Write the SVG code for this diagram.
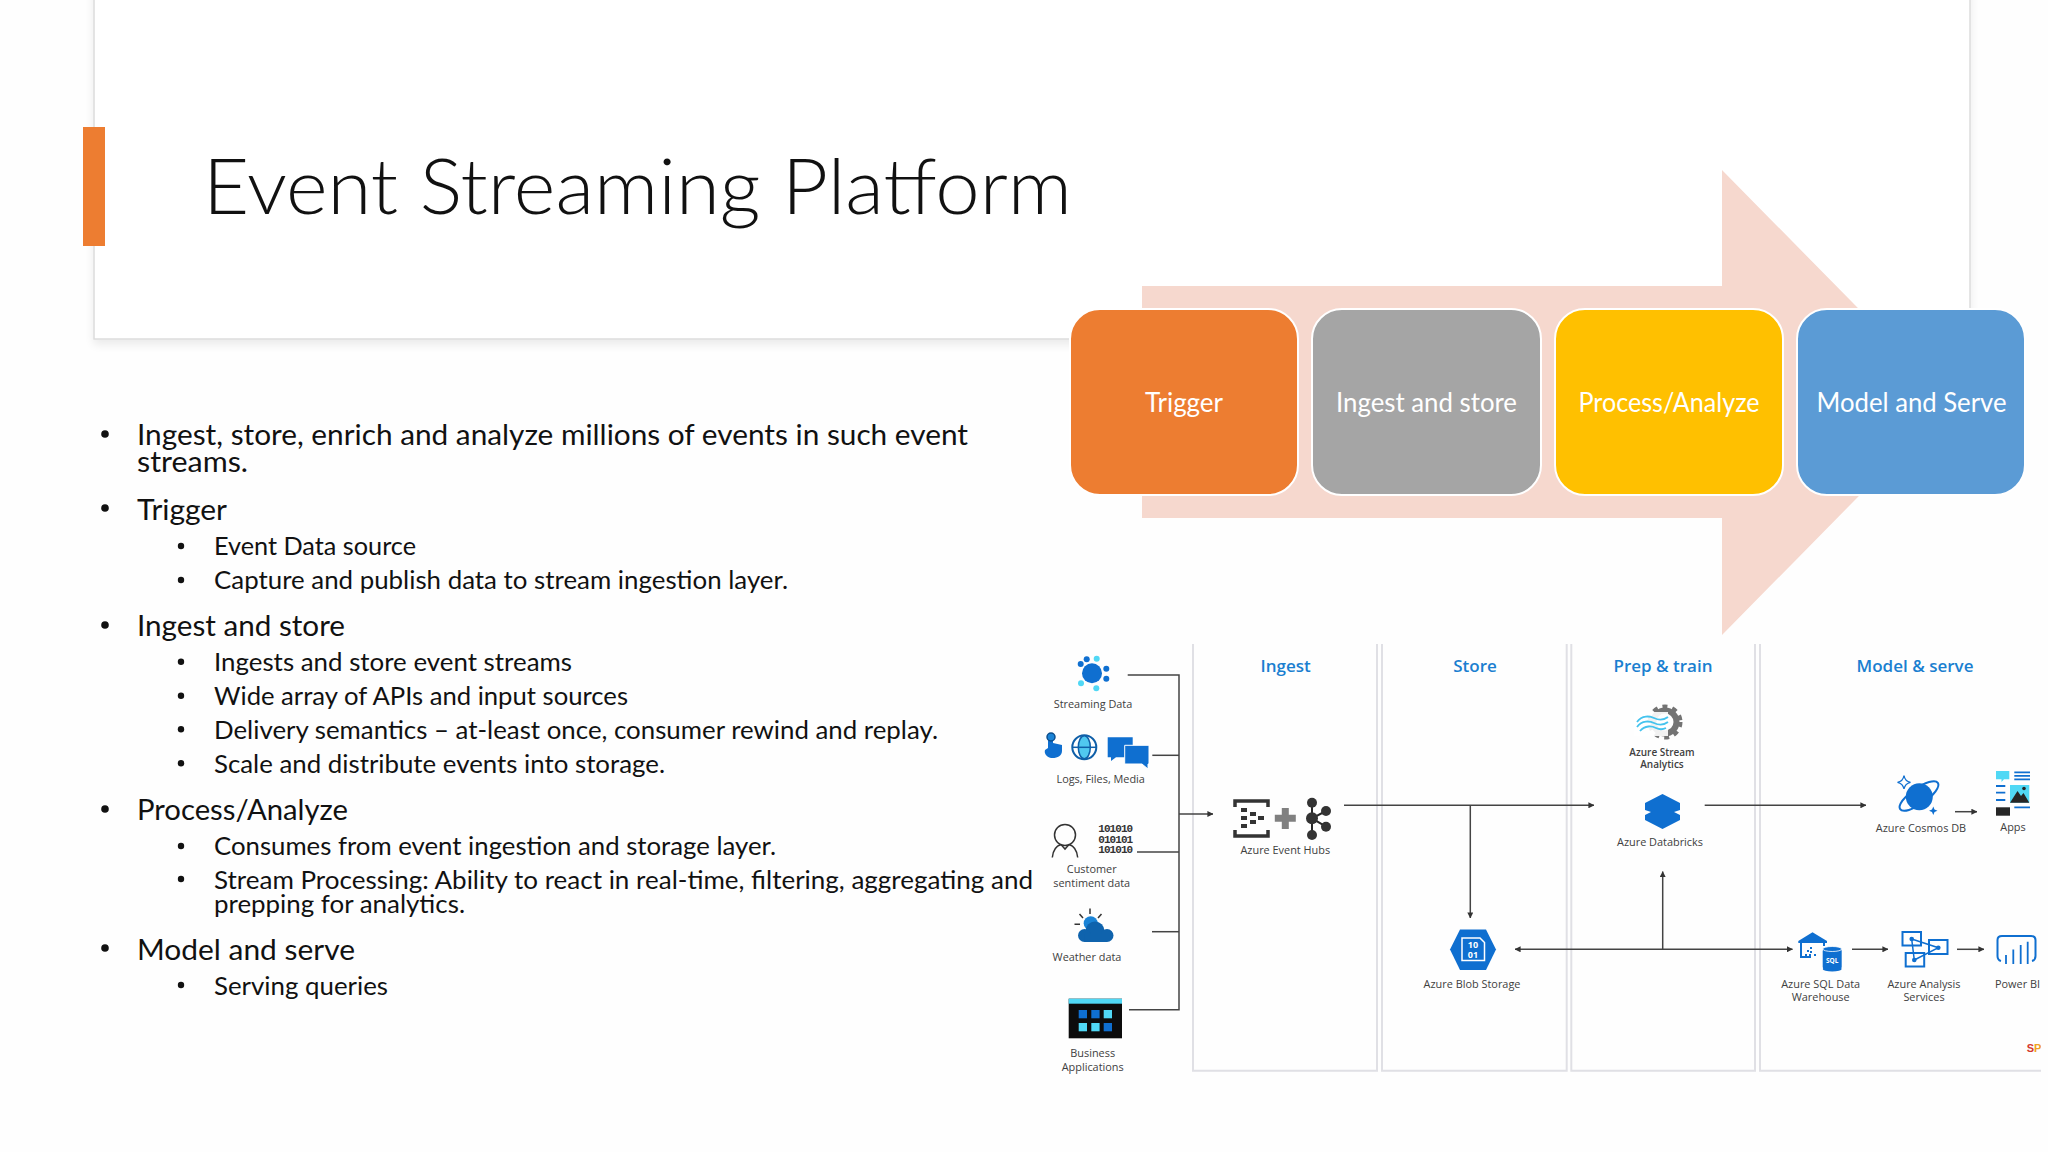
<svg xmlns="http://www.w3.org/2000/svg" width="2048" height="1152" viewBox="0 0 2048 1152">
<style>
.title{font-family:"Lato","Liberation Sans",sans-serif;font-weight:300;font-size:77px;fill:#111}
.b1{font-family:"Lato","Liberation Sans",sans-serif;font-size:28px;fill:#111}
.b2{font-family:"Lato","Liberation Sans",sans-serif;font-size:25px;fill:#111}
.box{stroke:#fff;stroke-width:2}
.boxt{font-family:"Lato","Liberation Sans",sans-serif;font-size:27px;fill:#fff;text-anchor:middle}
.panel{fill:none;stroke:#e0e0e5;stroke-width:2}
.hdr{font-family:"Open Sans","Liberation Sans",sans-serif;font-size:17px;font-weight:600;fill:#1a7fd0;text-anchor:middle}
.lbl{font-family:"Open Sans","Liberation Sans",sans-serif;font-size:10.9px;fill:#404040;text-anchor:middle}
.lblb{font-family:"Open Sans","Liberation Sans",sans-serif;font-size:10px;font-weight:600;fill:#404040;text-anchor:middle}
.wh{font-family:"Open Sans","Liberation Sans",sans-serif;font-weight:700;fill:#fff;text-anchor:middle}
.bin{font-family:"Liberation Mono",monospace;font-weight:700;font-size:11px;fill:#333;text-anchor:middle}
.bl{fill:#0f6fd0}.cy{fill:#50d8f5}.dk{fill:#262626}
.ln{fill:none;stroke:#0f6fd0;stroke-width:2}
.con{fill:none;stroke:#444;stroke-width:1.5}
.arr{marker-end:url(#ah)}
</style>
<defs>
<marker id="ah" viewBox="0 0 8 8" refX="7.5" refY="4" markerWidth="6" markerHeight="6" orient="auto-start-reverse" markerUnits="userSpaceOnUse"><path d="M0 0L8 4L0 8Z" fill="#333"/></marker>
<filter id="sh" x="-5%" y="-5%" width="110%" height="115%"><feGaussianBlur in="SourceAlpha" stdDeviation="5"/><feOffset dy="5"/><feComponentTransfer><feFuncA type="linear" slope="0.08"/></feComponentTransfer><feMerge><feMergeNode/><feMergeNode in="SourceGraphic"/></feMerge></filter>
<clipPath id="cp"><rect x="0" y="0" width="2041" height="1152"/></clipPath>
</defs>
<rect width="2048" height="1152" fill="#fefefe"/>

<g id="title-panel">
<rect x="94" y="-20" width="1876" height="359" fill="#fff" stroke="#dcdcdc" stroke-width="1.5" filter="url(#sh)"/>
<rect x="83" y="127" width="22" height="119" fill="#ed7d31"/>
<text class="title" x="203" y="214" textLength="869" lengthAdjust="spacingAndGlyphs">Event Streaming Platform</text>
</g>

<g id="bullets">
<g fill="#111">
<circle cx="105" cy="434" r="3.8"/><circle cx="105" cy="508" r="3.8"/><circle cx="105" cy="625" r="3.8"/><circle cx="105" cy="809" r="3.8"/><circle cx="105" cy="948" r="3.8"/>
<circle cx="181" cy="546" r="3.2"/><circle cx="181" cy="580" r="3.2"/><circle cx="181" cy="661.7" r="3.2"/><circle cx="181" cy="695.7" r="3.2"/><circle cx="181" cy="729.3" r="3.2"/><circle cx="181" cy="763.3" r="3.2"/><circle cx="181" cy="846" r="3.2"/><circle cx="181" cy="879" r="3.2"/><circle cx="181" cy="985" r="3.2"/>
</g>
<text class="b1" x="137" y="445" textLength="831" lengthAdjust="spacingAndGlyphs">Ingest, store, enrich and analyze millions of events in such event</text>
<text class="b1" x="137" y="472" textLength="111" lengthAdjust="spacingAndGlyphs">streams.</text>
<text class="b1" x="137" y="520" textLength="90" lengthAdjust="spacingAndGlyphs">Trigger</text>
<text class="b2" x="214" y="555" textLength="202" lengthAdjust="spacingAndGlyphs">Event Data source</text>
<text class="b2" x="214" y="589" textLength="574" lengthAdjust="spacingAndGlyphs">Capture and publish data to stream ingestion layer.</text>
<text class="b1" x="137" y="636" textLength="208" lengthAdjust="spacingAndGlyphs">Ingest and store</text>
<text class="b2" x="214" y="671" textLength="358" lengthAdjust="spacingAndGlyphs">Ingests and store event streams</text>
<text class="b2" x="214" y="705" textLength="414" lengthAdjust="spacingAndGlyphs">Wide array of APIs and input sources</text>
<text class="b2" x="214" y="739.300" textLength="724" lengthAdjust="spacingAndGlyphs">Delivery semantics – at-least once, consumer rewind and replay.</text>
<text class="b2" x="214" y="773.300" textLength="451" lengthAdjust="spacingAndGlyphs">Scale and distribute events into storage.</text>
<text class="b1" x="137" y="820" textLength="211" lengthAdjust="spacingAndGlyphs">Process/Analyze</text>
<text class="b2" x="214" y="855" textLength="562" lengthAdjust="spacingAndGlyphs">Consumes from event ingestion and storage layer.</text>
<text class="b2" x="214" y="889" textLength="819" lengthAdjust="spacingAndGlyphs">Stream Processing: Ability to react in real-time, filtering, aggregating and</text>
<text class="b2" x="214" y="912.700" textLength="251" lengthAdjust="spacingAndGlyphs">prepping for analytics.</text>
<text class="b1" x="137" y="960" textLength="218" lengthAdjust="spacingAndGlyphs">Model and serve</text>
<text class="b2" x="214" y="995" textLength="174" lengthAdjust="spacingAndGlyphs">Serving queries</text>
</g>

<path id="flow-arrow" d="M1142 286H1722V170L1951 402.500L1722 635V518H1142Z" fill="#f6d8ce"/>
<g id="node-trigger"><rect class="box" x="1070" y="309" width="228" height="186" rx="30" fill="#ed7d31"/><text class="boxt" x="1184" y="412" textLength="78" lengthAdjust="spacingAndGlyphs">Trigger</text></g>
<g id="node-ingest-store"><rect class="box" x="1312" y="309" width="229" height="186" rx="30" fill="#a5a5a5"/><text class="boxt" x="1426.500" y="412" textLength="181" lengthAdjust="spacingAndGlyphs">Ingest and store</text></g>
<g id="node-process"><rect class="box" x="1555" y="309" width="228" height="186" rx="30" fill="#ffc000"/><text class="boxt" x="1669" y="412" textLength="181" lengthAdjust="spacingAndGlyphs">Process/Analyze</text></g>
<g id="node-model"><rect class="box" x="1797" y="309" width="228" height="186" rx="30" fill="#5b9bd5"/><text class="boxt" x="1911.500" y="412" textLength="190" lengthAdjust="spacingAndGlyphs">Model and Serve</text></g>

<g id="panels">
<path class="panel" d="M1193 644V1070.700H1377V644"/>
<path class="panel" d="M1382 644V1070.700H1566.700V644"/>
<path class="panel" d="M1571.300 644V1070.700H1755V644"/>
<path class="panel" d="M1760 644V1070.700H2041"/>
<text class="hdr" x="1285.700" y="672">Ingest</text>
<text class="hdr" x="1475" y="672">Store</text>
<text class="hdr" x="1663" y="672">Prep &amp; train</text>
<text class="hdr" x="1915" y="672">Model &amp; serve</text>
</g>

<g id="connectors">
<path class="con" d="M1127.700 675H1179V1009.700H1129"/>
<path class="con" d="M1152.300 755.300H1179"/>
<path class="con" d="M1137 852H1179"/>
<path class="con" d="M1152 931.700H1179"/>
<path class="con arr" d="M1179 814H1213"/>
<path class="con arr" d="M1344 805.300H1594"/>
<path class="con arr" d="M1470.300 805.300V918"/>
<path class="con arr" d="M1704.700 805.300H1866"/>
<path class="con arr" d="M1955 811.700H1977"/>
<path class="con" style="marker-start:url(#ah);marker-end:url(#ah)" d="M1515 949.300H1792.500"/>
<path class="con arr" d="M1662.700 949.300V871.500"/>
<path class="con arr" d="M1852 949.300H1888"/>
<path class="con arr" d="M1957 949.300H1984"/>
</g>

<g id="node-streaming-data">
<circle class="bl" cx="1092" cy="673.300" r="10"/>
<g class="bl"><circle cx="1086.700" cy="659.300" r="3"/><circle cx="1106.300" cy="668.700" r="3"/><circle cx="1106.300" cy="678.700" r="3"/><circle cx="1080.700" cy="664" r="3"/></g>
<g class="cy"><circle cx="1096.700" cy="658.700" r="3"/><circle cx="1081" cy="683.300" r="3"/><circle cx="1096.300" cy="688.300" r="3"/></g>
<text class="lbl" x="1093" y="707.700">Streaming Data</text>
</g>
<g id="node-logs">
<path class="bl" d="M1048 738V748L1045 750C1044 753 1046 757 1051 758C1057 758.500 1062 756 1062 751V745L1053 743V738Z"/>
<circle cx="1051" cy="737" r="4" fill="#1a83d6" stroke="#0c4d8c" stroke-width="1.500"/>
<circle cx="1084.300" cy="747.300" r="12" fill="#fff" stroke="#0f5fa8" stroke-width="2"/>
<ellipse cx="1084.300" cy="747.300" rx="6" ry="11.500" fill="#50c8f0" stroke="#0f5fa8" stroke-width="1.500"/>
<path d="M1073 747.300H1096" stroke="#0f5fa8" stroke-width="1.500"/>
<path class="bl" d="M1107.700 737.300H1132.700V757.300H1116L1111 761V757.300H1107.700Z"/>
<path class="bl" stroke="#fff" d="M1124.700 745.300H1149V764H1148V769L1142 764H1124.700Z"/>
<text class="lbl" x="1100.700" y="783.300">Logs, Files, Media</text>
</g>
<g id="node-sentiment">
<circle cx="1065" cy="835" r="10.500" fill="none" stroke="#333" stroke-width="1.500"/>
<path d="M1052.300 857.500C1053 850 1056 846 1061 844.500L1065 849L1069 844.500C1074 846 1077 850 1077.700 857.500" fill="none" stroke="#333" stroke-width="1.500"/>
<text class="bin" x="1115.700" y="831.700" textLength="35">101010</text>
<text class="bin" x="1115.700" y="842.500" textLength="35">010101</text>
<text class="bin" x="1115.700" y="853.300" textLength="35">101010</text>
<text class="lbl" x="1091.700" y="873">Customer</text>
<text class="lbl" x="1091.700" y="886.700">sentiment data</text>
</g>
<g id="node-weather">
<circle cx="1090.700" cy="923.300" r="7" fill="#1a83d6"/>
<path d="M1090 908.500V914M1079.500 914L1083 918M1101.500 914L1098 918M1074.500 924.300H1080" stroke="#333" stroke-width="1.500"/>
<g fill="#0f63ad"><circle cx="1095" cy="931" r="9.500"/><circle cx="1084.500" cy="935.500" r="6.500"/><circle cx="1107" cy="935.500" r="6.500"/><rect x="1084.500" y="934" width="22.500" height="8"/></g>
<text class="lbl" x="1087" y="961.300">Weather data</text>
</g>
<g id="node-business">
<rect x="1068.700" y="998.700" width="53.300" height="39.600" fill="#0c0c0c"/>
<rect class="cy" x="1068.700" y="998.700" width="53.300" height="5"/>
<g class="bl"><rect x="1078.700" y="1010" width="8.300" height="8.300"/><rect x="1091.300" y="1010" width="8.300" height="8.300"/><rect x="1103.700" y="1023" width="8.300" height="8.300"/></g>
<g class="cy"><rect x="1103.700" y="1010" width="8.300" height="8.300"/><rect x="1078.700" y="1023" width="8.300" height="8.300"/><rect x="1091.300" y="1023" width="8.300" height="8.300"/></g>
<text class="lbl" x="1092.700" y="1057.300">Business</text>
<text class="lbl" x="1092.700" y="1070.700">Applications</text>
</g>
<g id="node-event-hubs">
<path d="M1235 807V801H1268V807M1235 830V836H1268V830" fill="none" stroke="#333" stroke-width="3.500"/>
<g fill="#333"><rect x="1241" y="808" width="6" height="4"/><rect x="1241" y="816" width="6" height="4"/><rect x="1241" y="824" width="6" height="4"/><rect x="1250" y="812" width="6" height="4"/><rect x="1250" y="820" width="6" height="4"/><rect x="1258" y="816" width="6" height="4"/></g>
<path d="M1285.300 808V829M1274.800 818.300H1295.800" stroke="#808080" stroke-width="7"/>
<path d="M1312 802.700V835M1312 818.300L1326 811M1312 818.300L1326 826.700" stroke="#262626" stroke-width="2"/>
<g fill="#333"><circle cx="1312" cy="818.300" r="6"/><circle cx="1312" cy="802.700" r="5"/><circle cx="1312" cy="835" r="5"/><circle cx="1326" cy="811" r="5"/><circle cx="1326" cy="826.700" r="5"/></g>
<text class="lbl" x="1285.300" y="854.300">Azure Event Hubs</text>
</g>
<g id="node-stream-analytics">
<circle cx="1665" cy="722" r="11.500" fill="none" stroke="#737373" stroke-width="6"/>
<circle cx="1665" cy="722" r="15.500" fill="none" stroke="#737373" stroke-width="4" stroke-dasharray="5 5"/>
<path d="M1634 712H1668V736H1634Z" fill="#fff" opacity="0.900"/>
<path d="M1637 722C1642 715 1650 716 1654 718C1660 721 1664 720 1668 717M1637 727C1642 720 1650 721 1654 723C1660 726 1664 725 1668 722M1640 731C1645 725 1652 726 1656 728C1660 730 1664 729 1666 728" fill="none" stroke="#45c3ee" stroke-width="1.800"/>
<text class="lblb" x="1662" y="755.700">Azure Stream</text>
<text class="lblb" x="1662" y="768">Analytics</text>
</g>
<g id="node-databricks">
<path class="bl" d="M1662.500 794L1680 803V810L1674 812L1680 815V820L1662.500 829L1645 820V815L1651 812L1645 810V803Z"/>
<text class="lbl" x="1660" y="845.700">Azure Databricks</text>
</g>
<g id="node-blob">
<path class="bl" d="M1450 949.500L1460 929.500H1486L1496 949.500L1486 970H1460Z"/>
<path d="M1462 938H1480L1484.500 942.500V960.500H1462Z" fill="none" stroke="#fff" stroke-width="1.500"/>
<text class="wh" x="1473" y="948.300" font-size="9">10</text>
<text class="wh" x="1473" y="957.600" font-size="9">01</text>
<text class="lbl" x="1472" y="987.700">Azure Blob Storage</text>
</g>
<g id="node-cosmos">
<ellipse class="ln" cx="1919" cy="796" rx="23" ry="8" transform="rotate(-35 1919 796)" stroke-width="1.500"/>
<circle class="bl" cx="1919.300" cy="796.700" r="13.500"/>
<path d="M1904 775.500Q1905 781.500 1910.500 782.300Q1905 783.500 1904 789Q1903 783.500 1897.500 782.300Q1903 781.500 1904 775.500Z" fill="#fff" stroke="#0f6fd0" stroke-width="1.300"/>
<path class="bl" d="M1933.300 806.500L1934.500 809.500L1937.500 810.700L1934.500 812L1933.300 815L1932 812L1929 810.700L1932 809.500Z"/>
<text class="lbl" x="1921" y="831.700">Azure Cosmos DB</text>
</g>
<g id="node-apps">
<path class="cy" d="M1996 771H2009.300V779.300H2004L2001.500 782V779.300H1996Z"/>
<path d="M2014.300 772.300H2030M2014.300 775.800H2030M2014.300 779.300H2030M1996 786H2005.300M1996 792.700H2005.300M1996 800H2005.300M2014.300 807.300H2030" stroke="#0f6fd0" stroke-width="1.800"/>
<rect class="cy" x="2010" y="785" width="19.300" height="17.700"/>
<path class="dk" d="M2010 802.700L2017.500 791L2021 796L2023.500 793L2029.300 802.700Z"/>
<circle class="dk" cx="2024" cy="788.500" r="1.800"/>
<rect class="dk" x="1996" y="807.300" width="14" height="8.400"/>
<text class="lbl" x="2013" y="831">Apps</text>
</g>
<g id="node-sql-dw">
<path class="bl" d="M1798.300 941L1812.500 932.300L1827 941V943H1798.300Z"/>
<path class="ln" d="M1801 943V957H1811M1824 943V946"/>
<g class="bl"><rect x="1807" y="950" width="2" height="2"/><rect x="1810" y="947" width="2" height="2"/><rect x="1810" y="951" width="2" height="2"/><rect x="1805" y="954" width="2" height="2"/><rect x="1809" y="954" width="2" height="2"/><rect x="1814" y="954" width="2" height="2"/></g>
<rect class="bl" x="1822.700" y="949" width="19" height="20" rx="2"/>
<ellipse class="bl" cx="1832.200" cy="969" rx="9.500" ry="2.500"/>
<ellipse class="bl" cx="1832.200" cy="949" rx="9.500" ry="2.500" stroke="#fff" stroke-width="0.800"/>
<text class="wh" x="1832.200" y="963" font-size="6.500">SQL</text>
<text class="lbl" x="1820.700" y="987.700">Azure SQL Data</text>
<text class="lbl" x="1820.700" y="1001.300">Warehouse</text>
</g>
<g id="node-analysis">
<g class="ln" style="fill:#fff"><rect x="1902.500" y="932" width="18.500" height="13.500"/><rect x="1929" y="940" width="18.500" height="14"/><rect x="1905.700" y="953" width="18.500" height="13.500"/></g>
<path d="M1911.700 939L1938.300 947.700L1914.300 960Z" fill="none" stroke="#0f6fd0" stroke-width="1.500"/>
<g class="bl"><circle cx="1911.700" cy="939" r="2.300"/><circle cx="1938.300" cy="947.700" r="2.300"/><circle cx="1914.300" cy="960" r="2.300"/></g>
<text class="lbl" x="1924" y="987.700">Azure Analysis</text>
<text class="lbl" x="1924" y="1001.300">Services</text>
</g>
<g id="node-powerbi">
<path class="ln" d="M2001 961Q1997.500 960 1997.500 956V940Q1997.500 936 2002 936H2031Q2035.500 936 2035.500 940V956Q2035.500 960 2032 961"/>
<path d="M2006 955V964M2013.300 949.500V964M2020.700 945V964M2027.700 941.700V964" stroke="#0f6fd0" stroke-width="1.800"/>
<text class="lbl" x="2017.500" y="987.700">Power BI</text>
</g>
<g id="mark" clip-path="url(#cp)">
<text x="2026.700" y="1052" font-family="Liberation Sans,sans-serif" font-weight="700" font-size="11"><tspan fill="#d43a2f">S</tspan><tspan fill="#f0a020">P</tspan></text>
</g>
</svg>
